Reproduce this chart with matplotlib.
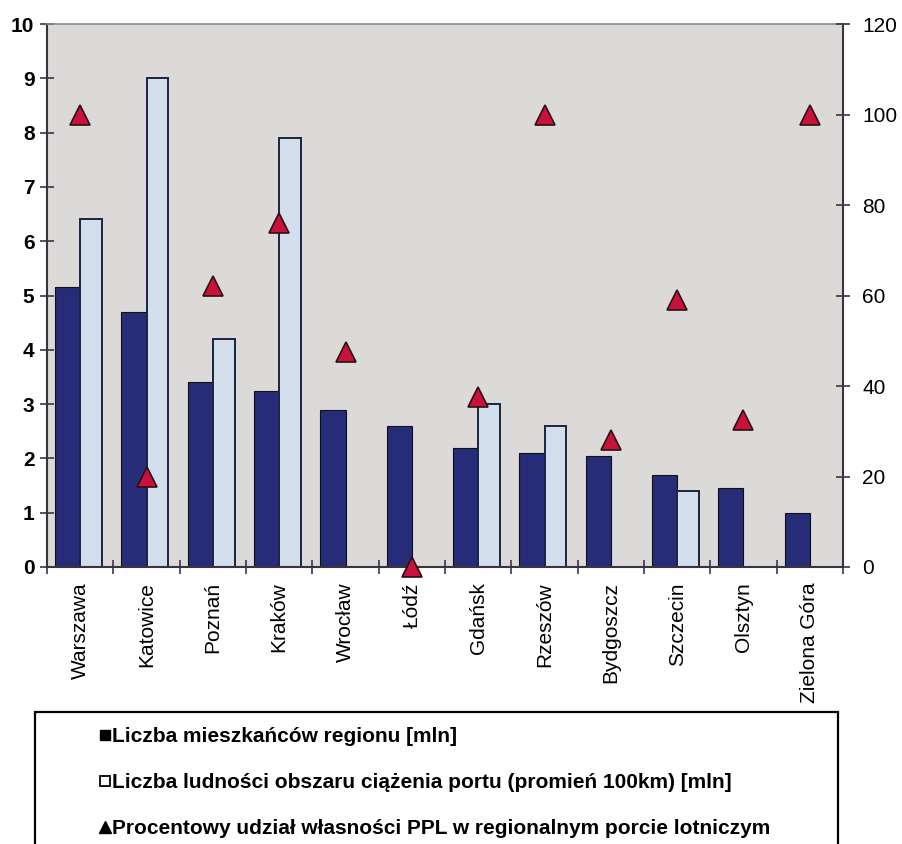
import numpy as np
import matplotlib
matplotlib.use("Agg")
import matplotlib.pyplot as plt
from matplotlib.lines import Line2D
from matplotlib.patches import Rectangle

# City / regional airport data
cities = ["Warszawa", "Katowice", "Poznań", "Kraków", "Wrocław", "Łódź",
          "Gdańsk", "Rzeszów", "Bydgoszcz", "Szczecin", "Olsztyn", "Zielona Góra"]
region_pop = [5.15, 4.7, 3.4, 3.25, 2.9, 2.6, 2.2, 2.1, 2.05, 1.7, 1.45, 1.0]
catchment_pop = [6.4, 9.0, 4.2, 7.9, 0, 0, 3.0, 2.6, 0, 1.4, 0, 0]
ppl_share = [100, 20, 62, 76, 47.5, 0, 37.5, 100, 28, 59, 32.5, 100]

label_dark = "Liczba mieszkańców regionu [mln]"
label_light = "Liczba ludności obszaru ciążenia portu (promień 100km) [mln]"
label_tri = "Procentowy udział własności PPL w regionalnym porcie lotniczym"

dark_col = "#262c78"
light_col = "#d2deec"
edge_col = "#1c2440"
tri_col = "#c8123c"
bg_col = "#dcdad8"
sans = ["Liberation Sans", "DejaVu Sans"]

W, H = 902, 844
fig = plt.figure(figsize=(W / 100, H / 100), dpi=100)
ax = fig.add_axes([47 / W, 1 - 567 / H, 796 / W, 543 / H])
ax.set_facecolor(bg_col)

x = np.arange(len(cities))
ax.bar(x, region_pop, width=-0.38, align="edge", color=dark_col,
       edgecolor="#111111", linewidth=0.8, zorder=2)
cp = np.array(catchment_pop, dtype=float)
mask = cp > 0
ax.bar(x[mask], cp[mask], width=0.33, align="edge", color=light_col,
       edgecolor=edge_col, linewidth=1.4, zorder=2)

ax.set_xlim(-0.5, len(cities) - 0.5)
ax.set_ylim(0, 10)
ax.set_yticks(range(0, 11))
ax.set_xticks(x)
ax.set_xticklabels(cities, rotation=90, fontsize=15, family=sans)
ax.set_xticks(np.arange(-0.5, len(cities)), minor=True)
ax.tick_params(axis="x", which="major", length=0, pad=11)
ax.tick_params(axis="x", which="minor", direction="inout", length=10,
               width=1.2, color="#3a3550")
ax.tick_params(axis="y", direction="inout", length=10, width=1.2,
               color="#3a3550", pad=4)
for lab in ax.get_yticklabels():
    lab.set_fontsize(15)
    lab.set_fontweight("bold")
    lab.set_family(sans)

for side in ["left", "bottom", "right"]:
    ax.spines[side].set_color("#3a3440")
    ax.spines[side].set_linewidth(1.5)
ax.spines["top"].set_color("#8a8a8a")
ax.spines["top"].set_linewidth(1.2)

ax2 = ax.twinx()
ax2.set_ylim(0, 120)
ax2.set_yticks(range(0, 121, 20))
ax2.plot(x, ppl_share, linestyle="none", marker="^", markersize=15,
         markerfacecolor=tri_col, markeredgecolor="#2a1010",
         markeredgewidth=1.2, clip_on=False, zorder=5)
ax2.tick_params(axis="y", direction="inout", length=10, width=1.2,
                color="#3a3440", pad=9)
for lab in ax2.get_yticklabels():
    lab.set_fontsize(15)
    lab.set_family(sans)
for side in ["left", "bottom", "right", "top"]:
    ax2.spines[side].set_visible(False)

# Legend frame, running off the bottom of the figure
fig.add_artist(Rectangle((35 / W, -0.05), 803 / W, 0.05 + 1 - 712 / H,
                         transform=fig.transFigure, facecolor="white",
                         edgecolor="black", linewidth=1.6, zorder=0))

handles = [
    Line2D([], [], linestyle="none", marker="s", markersize=7,
           markerfacecolor="black", markeredgecolor="black"),
    Line2D([], [], linestyle="none", marker="s", markersize=7,
           markerfacecolor="white", markeredgecolor="black", markeredgewidth=1.3),
    Line2D([], [], linestyle="none", marker="^", markersize=8,
           markerfacecolor="black", markeredgecolor="black"),
]
leg = fig.legend(handles, [label_dark, label_light, label_tri],
                 loc="upper left", bbox_to_anchor=(97 / W, 1 - 727 / H),
                 frameon=False, borderpad=0, labelspacing=1.3,
                 handlelength=0.75, handletextpad=-0.05, borderaxespad=0,
                 prop={"family": sans, "weight": "bold", "size": 15})

fig.savefig("out.png", dpi=100)
